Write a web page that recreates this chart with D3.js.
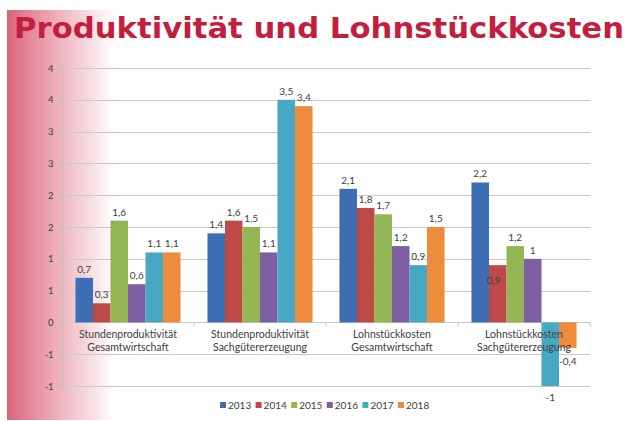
<!DOCTYPE html>
<html><head><meta charset="utf-8">
<script src="https://cdn.jsdelivr.net/npm/d3@7"></script>
<style>html,body{margin:0;padding:0;background:#fff;}svg{display:block;}</style>
</head><body>
<script>
const categories = [
  ["Stundenproduktivität","Gesamtwirtschaft"],
  ["Stundenproduktivität","Sachgütererzeugung"],
  ["Lohnstückkosten","Gesamtwirtschaft"],
  ["Lohnstückkosten","Sachgütererzeugung"]
];
const years = ["2013","2014","2015","2016","2017","2018"];
const values2013 = [0.7, 1.4, 2.1, 2.2];
const values2014 = [0.3, 1.6, 1.8, 0.9];
const values2015 = [1.6, 1.5, 1.7, 1.2];
const values2016 = [0.6, 1.1, 1.2, 1.0];
const values2017 = [1.1, 3.5, 0.9, -1.0];
const values2018 = [1.1, 3.4, 1.5, -0.4];
const seriesValues = [values2013, values2014, values2015, values2016, values2017, values2018];
const colors = ["#3D6DB3","#BE4A47","#93B553","#7D5EA3","#47A8C4","#EE8B3C"];
const yTickValues = [-1,-0.5,0,0.5,1,1.5,2,2.5,3,3.5,4];
const yTickLabels = ["-1","-1","0","1","1","2","2","3","3","4","4"];
const title = "Produktivität und Lohnstückkosten";

(function(){
const W = 630, H = 421;
const svg = d3.select("body").append("svg").attr("width", W).attr("height", H);
const defs = svg.append("defs");
const grad = defs.append("linearGradient").attr("id","bg").attr("x1","0").attr("x2","1").attr("y1","0").attr("y2","0");
grad.append("stop").attr("offset","0%").attr("stop-color","#DC647B");
grad.append("stop").attr("offset","45%").attr("stop-color","#EEAEBA");
grad.append("stop").attr("offset","100%").attr("stop-color","#ffffff");
svg.append("rect").attr("x",7).attr("y",10).attr("width",108).attr("height",410).attr("fill","url(#bg)");

svg.append("text").attr("x",14).attr("y",38)
  .attr("font-family","DejaVu Sans").attr("font-weight","bold").attr("font-size",29)
  .attr("fill","#C41E3F").attr("textLength",610).attr("lengthAdjust","spacingAndGlyphs")
  .text(title);

const pl = 62, pr = 590, pt = 68, pb = 386;
const y = d3.scaleLinear().domain([-1,4]).range([pb, pt]);
const x0 = d3.scaleBand().domain(d3.range(categories.length)).range([pl, pr]).padding(0);
const x1 = d3.scaleBand().domain(years).range([0, x0.bandwidth()]).paddingInner(0).paddingOuter(0.77);

const font = "Lato, 'Open Sans', sans-serif";
const textCol = "#404040";

// gridlines
svg.append("g").selectAll("line").data(yTickValues).join("line")
  .attr("x1", pl).attr("x2", pr)
  .attr("y1", d => Math.round(y(d))+0.5).attr("y2", d => Math.round(y(d))+0.5)
  .attr("stroke", "#C9C9C9").attr("stroke-width", 1);

// y axis
const yAxis = d3.axisLeft(y).tickValues(yTickValues).tickSize(4)
  .tickFormat((d,i) => yTickLabels[i]);
const gy = svg.append("g").attr("transform", `translate(${pl+0.5},0)`).call(yAxis);
gy.select(".domain").attr("stroke","#BFBFBF").attr("d", `M-4,${pt}H0V${pb}H-4`);
gy.selectAll(".tick line").attr("stroke","#BFBFBF");
gy.selectAll(".tick text").attr("font-family",font).attr("font-size",9.5).attr("fill",textCol).attr("x",-9);

// bars
const groups = svg.append("g").selectAll("g").data(years).join("g").attr("fill",(d,i)=>colors[i]);
groups.selectAll("rect").data((yr,si) => seriesValues[si].map((v,ci)=>({v,ci,yr}))).join("rect")
  .attr("x", d => x0(d.ci) + x1(d.yr))
  .attr("width", x1.bandwidth())
  .attr("y", d => y(Math.max(0,d.v)))
  .attr("height", d => Math.abs(y(d.v)-y(0)));

// zero axis ticks at category boundaries
const y0 = Math.round(y(0))+0.5;
svg.append("g").selectAll("line").data(d3.range(categories.length+1)).join("line")
  .attr("x1", i => i===categories.length ? pr : x0(i)).attr("x2", i => i===categories.length ? pr : x0(i))
  .attr("y1", y0).attr("y2", y0+4).attr("stroke","#BFBFBF");

// category labels
const cl = svg.append("g").attr("font-family",font).attr("font-size",10.5).attr("fill",textCol).attr("text-anchor","middle");
categories.forEach((c,i) => {
  const cx = x0(i) + x0.bandwidth()/2;
  cl.append("text").attr("x",cx).attr("y",338).text(c[0]);
  cl.append("text").attr("x",cx).attr("y",351).text(c[1]);
});

// data labels
const fmt = v => String(v).replace(".", ",");
const labels = svg.append("g").attr("font-family",font).attr("font-size",10).attr("fill",textCol).attr("text-anchor","middle");
years.forEach((yr,si) => {
  seriesValues[si].forEach((v,ci) => {
    let cx = x0(ci) + x1(yr) + x1.bandwidth()/2;
    let ty = v >= 0 ? y(v) - 5 : y(v) + 15;
    if (ci === 3 && si === 1) { ty = y(v) + 19; cx -= 4; }
    if (ci === 3 && si === 5) { ty = y(v) + 17; }
    labels.append("text").attr("x", cx).attr("y", ty).text(fmt(v));
  });
});

// legend
const lg = svg.append("g").attr("font-family",font).attr("font-size",10).attr("fill",textCol);
years.forEach((yr,i) => {
  const lx = 220 + i*35.6;
  lg.append("rect").attr("x",lx).attr("y",402).attr("width",6).attr("height",6).attr("fill",colors[i]);
  lg.append("text").attr("x",lx+8).attr("y",409).text(yr);
});
})();
</script>
</body></html>
